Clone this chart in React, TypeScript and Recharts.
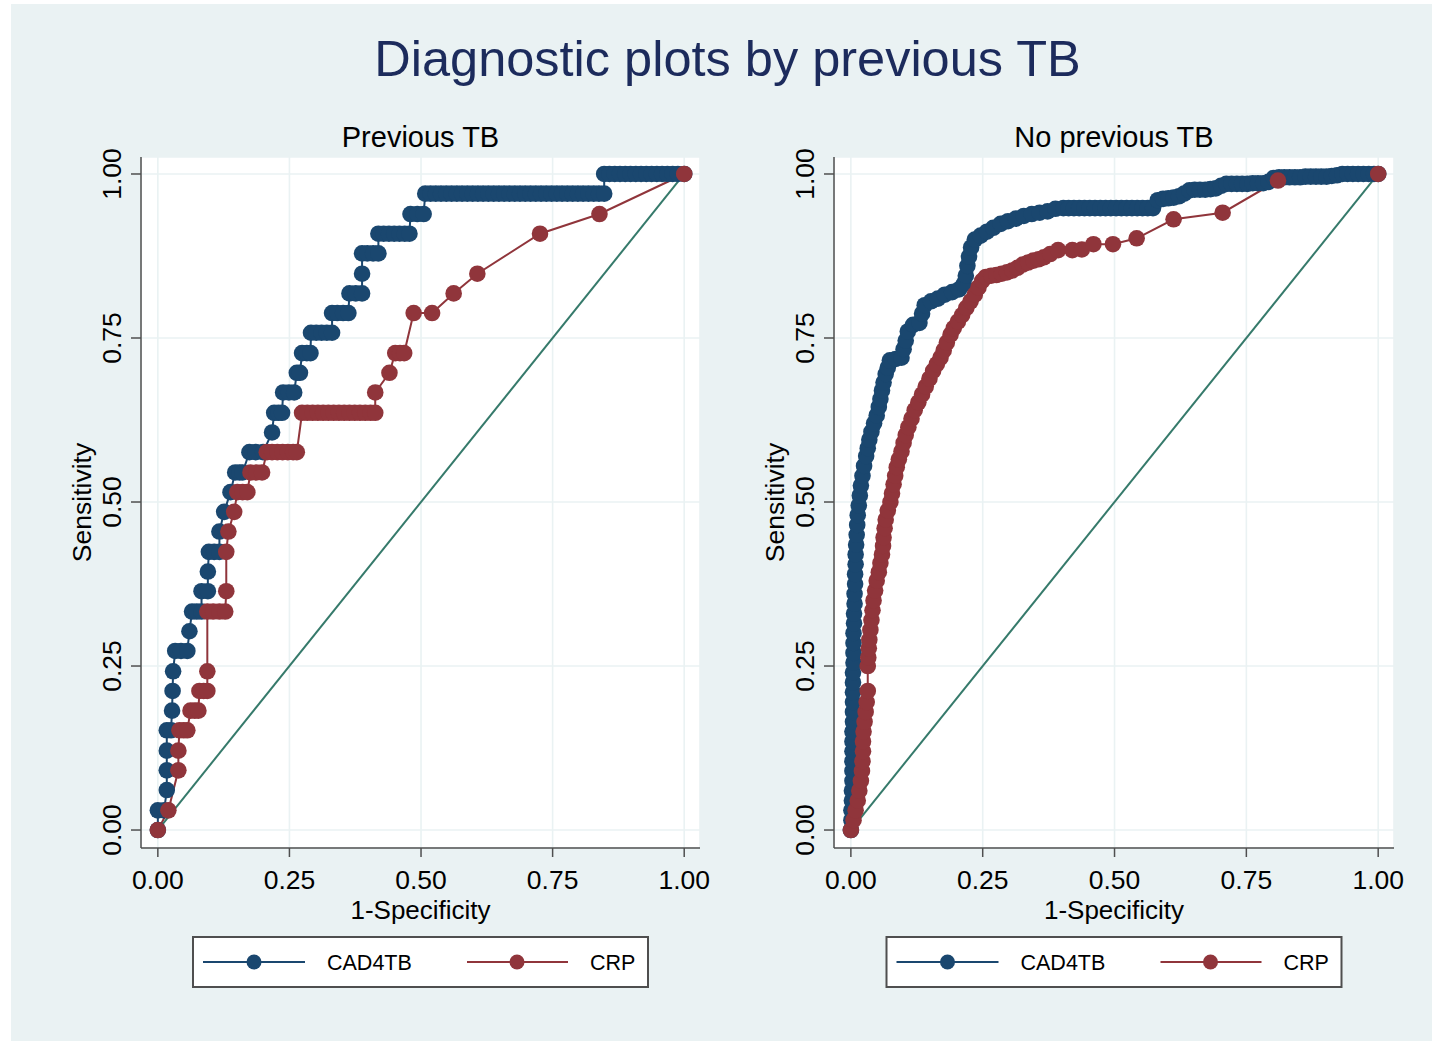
import React from "react";
import { ComposedChart, Line, XAxis, YAxis, CartesianGrid } from "recharts";

// ---------- text ----------
const chartTitle = "Diagnostic plots by previous TB";
const panelTitles = ["Previous TB", "No previous TB"];
const seriesNames = ["CAD4TB", "CRP"];
const xAxisTitle = "1-Specificity";
const yAxisTitle = "Sensitivity";

// ---------- ticks ----------
const xTicks = [0, 0.25, 0.5, 0.75, 1];
const yTicks = [0, 0.25, 0.5, 0.75, 1];

// ---------- data: [1-specificity, sensitivity] ----------
const cad4tbPrevious: [number, number][] = [
  [0, 0], [0, 0.03], [0.012, 0.03], [0.017, 0.061], [0.017, 0.091], [0.017, 0.121],
  [0.017, 0.152], [0.025, 0.152], [0.027, 0.182], [0.028, 0.212], [0.029, 0.242],
  [0.033, 0.273], [0.044, 0.273], [0.056, 0.273], [0.06, 0.303],
  [0.065, 0.333], [0.074, 0.333], [0.083, 0.333], [0.083, 0.364], [0.095, 0.364],
  [0.095, 0.394], [0.097, 0.424], [0.107, 0.424], [0.117, 0.424], [0.117, 0.455],
  [0.126, 0.485], [0.138, 0.515], [0.147, 0.545], [0.155, 0.545], [0.161, 0.545],
  [0.174, 0.576], [0.186, 0.576], [0.2, 0.576], [0.217, 0.606],
  [0.221, 0.636], [0.229, 0.636], [0.236, 0.636], [0.238, 0.667], [0.249, 0.667], [0.259, 0.667],
  [0.264, 0.697], [0.27, 0.697], [0.274, 0.727], [0.283, 0.727], [0.29, 0.727],
  [0.291, 0.758], [0.301, 0.758], [0.311, 0.758], [0.321, 0.758], [0.331, 0.758],
  [0.331, 0.788], [0.341, 0.788], [0.352, 0.788], [0.362, 0.788],
  [0.364, 0.818], [0.376, 0.818], [0.388, 0.818],
  [0.388, 0.848], [0.388, 0.879], [0.398, 0.879], [0.409, 0.879], [0.419, 0.879],
  [0.419, 0.909], [0.429, 0.909], [0.439, 0.909], [0.449, 0.909], [0.459, 0.909], [0.469, 0.909], [0.478, 0.909],
  [0.48, 0.939], [0.493, 0.939], [0.505, 0.939],
  [0.508, 0.97], [0.518, 0.97], [0.528, 0.97], [0.538, 0.97], [0.548, 0.97], [0.558, 0.97],
  [0.568, 0.97], [0.578, 0.97], [0.588, 0.97], [0.598, 0.97], [0.608, 0.97], [0.618, 0.97],
  [0.628, 0.97], [0.638, 0.97], [0.648, 0.97], [0.658, 0.97], [0.668, 0.97], [0.678, 0.97],
  [0.688, 0.97], [0.698, 0.97], [0.708, 0.97], [0.718, 0.97], [0.728, 0.97], [0.738, 0.97],
  [0.748, 0.97], [0.758, 0.97], [0.768, 0.97], [0.778, 0.97], [0.788, 0.97], [0.798, 0.97],
  [0.808, 0.97], [0.818, 0.97], [0.828, 0.97], [0.838, 0.97], [0.848, 0.97],
  [0.848, 1], [0.858, 1], [0.868, 1], [0.878, 1], [0.888, 1], [0.898, 1], [0.908, 1],
  [0.918, 1], [0.928, 1], [0.938, 1], [0.948, 1], [0.958, 1], [0.968, 1], [0.978, 1],
  [0.988, 1], [1, 1],
];

const crpPrevious: [number, number][] = [
  [0, 0], [0.02, 0.03], [0.039, 0.091], [0.039, 0.121],
  [0.041, 0.152], [0.049, 0.152], [0.056, 0.152],
  [0.062, 0.182], [0.07, 0.182], [0.077, 0.182],
  [0.079, 0.212], [0.087, 0.212], [0.094, 0.212], [0.094, 0.242],
  [0.094, 0.333], [0.105, 0.333], [0.117, 0.333], [0.128, 0.333],
  [0.13, 0.364], [0.13, 0.424], [0.134, 0.455], [0.145, 0.485],
  [0.151, 0.515], [0.161, 0.515], [0.17, 0.515],
  [0.176, 0.545], [0.187, 0.545], [0.198, 0.545],
  [0.207, 0.576], [0.217, 0.576], [0.227, 0.576], [0.237, 0.576], [0.247, 0.576], [0.257, 0.576], [0.264, 0.576],
  [0.274, 0.636], [0.284, 0.636], [0.294, 0.636], [0.304, 0.636], [0.314, 0.636], [0.324, 0.636],
  [0.334, 0.636], [0.344, 0.636], [0.354, 0.636], [0.364, 0.636], [0.374, 0.636], [0.384, 0.636],
  [0.394, 0.636], [0.404, 0.636], [0.413, 0.636],
  [0.413, 0.667], [0.44, 0.697], [0.451, 0.727], [0.46, 0.727], [0.468, 0.727],
  [0.486, 0.788], [0.521, 0.788], [0.562, 0.818], [0.607, 0.848],
  [0.726, 0.909], [0.839, 0.939], [1, 1],
];

const cad4tbNoPrevious: [number, number][] = [
  [0, 0], [0.001, 0.015], [0.001, 0.03], [0.002, 0.045], [0.002, 0.06], [0.003, 0.075],
  [0.003, 0.09], [0.003, 0.105], [0.003, 0.12], [0.003, 0.135], [0.003, 0.15], [0.004, 0.165],
  [0.004, 0.18], [0.004, 0.195], [0.004, 0.21], [0.004, 0.225], [0.004, 0.24], [0.005, 0.255],
  [0.005, 0.27], [0.005, 0.285], [0.005, 0.3], [0.006, 0.315], [0.006, 0.33], [0.007, 0.345],
  [0.007, 0.36], [0.008, 0.375], [0.008, 0.39], [0.009, 0.405], [0.009, 0.42], [0.01, 0.435],
  [0.011, 0.45], [0.012, 0.465], [0.013, 0.48], [0.015, 0.495], [0.017, 0.51], [0.019, 0.525],
  [0.022, 0.54], [0.025, 0.555], [0.029, 0.57], [0.032, 0.582], [0.035, 0.595], [0.039, 0.607],
  [0.044, 0.62], [0.049, 0.632], [0.053, 0.645], [0.056, 0.657], [0.059, 0.67], [0.062, 0.682],
  [0.066, 0.695], [0.07, 0.705], [0.074, 0.716], [0.085, 0.718], [0.096, 0.72], [0.1, 0.733],
  [0.104, 0.746], [0.108, 0.76], [0.118, 0.77], [0.13, 0.773], [0.135, 0.787], [0.14, 0.8],
  [0.152, 0.806], [0.165, 0.81], [0.178, 0.816], [0.192, 0.82], [0.205, 0.824], [0.214, 0.832],
  [0.218, 0.845], [0.221, 0.86], [0.224, 0.874], [0.228, 0.888], [0.235, 0.9], [0.246, 0.906],
  [0.258, 0.912], [0.27, 0.918], [0.284, 0.924], [0.298, 0.928], [0.313, 0.932], [0.328, 0.936],
  [0.343, 0.939], [0.358, 0.941], [0.373, 0.943], [0.388, 0.947], [0.403, 0.948], [0.413, 0.948],
  [0.423, 0.948], [0.433, 0.948], [0.443, 0.948], [0.453, 0.948], [0.463, 0.948], [0.473, 0.948],
  [0.483, 0.948], [0.493, 0.948], [0.503, 0.948], [0.513, 0.948], [0.523, 0.948], [0.533, 0.948],
  [0.543, 0.948], [0.553, 0.948], [0.563, 0.948], [0.573, 0.948], [0.582, 0.96], [0.592, 0.962],
  [0.602, 0.963], [0.612, 0.964], [0.622, 0.966], [0.632, 0.97], [0.642, 0.975], [0.652, 0.976],
  [0.662, 0.976], [0.672, 0.976], [0.682, 0.977], [0.692, 0.978], [0.702, 0.982], [0.712, 0.985],
  [0.722, 0.985], [0.732, 0.985], [0.742, 0.985], [0.752, 0.985], [0.762, 0.986], [0.772, 0.986],
  [0.782, 0.986], [0.792, 0.988], [0.802, 0.994], [0.812, 0.995], [0.822, 0.995], [0.832, 0.995],
  [0.842, 0.995], [0.852, 0.995], [0.862, 0.996], [0.872, 0.996], [0.882, 0.996], [0.892, 0.996],
  [0.902, 0.996], [0.912, 0.997], [0.922, 0.998], [0.932, 1], [0.942, 1], [0.952, 1],
  [0.962, 1], [0.972, 1], [0.982, 1], [0.992, 1], [1, 1],
];

const crpNoPrevious: [number, number][] = [
  [0, 0], [0.005, 0.015], [0.009, 0.03], [0.013, 0.045], [0.016, 0.06], [0.019, 0.075],
  [0.021, 0.09], [0.022, 0.105], [0.023, 0.12], [0.023, 0.135], [0.024, 0.15], [0.026, 0.165],
  [0.028, 0.18], [0.03, 0.195], [0.032, 0.212], [0.032, 0.25], [0.033, 0.263], [0.034, 0.277],
  [0.035, 0.29], [0.037, 0.305], [0.039, 0.32], [0.041, 0.335], [0.043, 0.35], [0.046, 0.365],
  [0.049, 0.38], [0.053, 0.393], [0.056, 0.407], [0.059, 0.42], [0.061, 0.433], [0.062, 0.446],
  [0.064, 0.46], [0.066, 0.473], [0.07, 0.487], [0.075, 0.5], [0.078, 0.513], [0.081, 0.527],
  [0.084, 0.54], [0.087, 0.553], [0.091, 0.565], [0.096, 0.577], [0.1, 0.59], [0.104, 0.602],
  [0.109, 0.614], [0.115, 0.627], [0.121, 0.64], [0.128, 0.652], [0.135, 0.664], [0.142, 0.676],
  [0.149, 0.688], [0.156, 0.7], [0.163, 0.71], [0.17, 0.72], [0.176, 0.731], [0.182, 0.743],
  [0.189, 0.755], [0.195, 0.765], [0.203, 0.775], [0.211, 0.785], [0.219, 0.796], [0.227, 0.806],
  [0.235, 0.816], [0.242, 0.827], [0.249, 0.837], [0.256, 0.843], [0.266, 0.845], [0.276, 0.846],
  [0.286, 0.848], [0.296, 0.85], [0.306, 0.853], [0.316, 0.857], [0.326, 0.862], [0.336, 0.865],
  [0.346, 0.868], [0.356, 0.87], [0.366, 0.873], [0.378, 0.878], [0.393, 0.884], [0.42, 0.884],
  [0.438, 0.885], [0.46, 0.893], [0.497, 0.893], [0.542, 0.902], [0.612, 0.931], [0.705, 0.941],
  [0.81, 0.99], [1, 1],
];

const referenceDiagonal: [number, number][] = [[0, 0], [1, 1]];

// ---------- styles ----------
const NAVY = "#1a476f";
const MAROON = "#90353b";
const GREEN = "#367a6b";
const BG = "#eaf2f3";
const AXIS = "#4f4f4f";
const FONT = "'Liberation Sans', Arial, Helvetica, sans-serif";
const DOT_R = 8.3;

const toRows = (arr: [number, number][]) => arr.map(([x, y]) => ({ x, y }));
const fmt = (v: number) => v.toFixed(2);

const XTick = (props: any) => {
  const { x, y, payload } = props;
  return (
    <text x={x} y={y + 29.5} textAnchor="middle" fontFamily={FONT} fontSize={26.5} fill="#000">
      {fmt(payload.value)}
    </text>
  );
};

const YTick = (props: any) => {
  const { x, y, payload } = props;
  const bx = x - 7.5;
  return (
    <text
      x={bx}
      y={y}
      transform={`rotate(-90 ${bx} ${y})`}
      textAnchor="middle"
      fontFamily={FONT}
      fontSize={26.5}
      fill="#000"
    >
      {fmt(payload.value)}
    </text>
  );
};

type PanelProps = { left: number; width: number; cad: [number, number][]; crp: [number, number][] };

function Panel({ left, width, cad, crp }: PanelProps) {
  return (
    <div style={{ position: "absolute", left, top: 100, width, height: 830 }}>
      <ComposedChart width={width} height={830} margin={{ top: 57, right: 20, bottom: 0, left: 0 }}>
        <CartesianGrid stroke={BG} strokeWidth={1.6} fill="#ffffff" fillOpacity={1} />
        <XAxis
          type="number"
          dataKey="x"
          domain={[-0.032, 1.03]}
          ticks={xTicks}
          interval={0}
          allowDataOverflow
          height={82}
          tickSize={9}
          axisLine={{ stroke: AXIS, strokeWidth: 1.5 }}
          tickLine={{ stroke: AXIS, strokeWidth: 1.5 }}
          tick={<XTick />}
        />
        <YAxis
          type="number"
          dataKey="y"
          domain={[-0.0274, 1.0259]}
          ticks={yTicks}
          interval={0}
          allowDataOverflow
          width={121}
          tickSize={10}
          axisLine={{ stroke: AXIS, strokeWidth: 1.5 }}
          tickLine={{ stroke: AXIS, strokeWidth: 1.5 }}
          tick={<YTick />}
        />
        <Line
          data={toRows(cad)}
          dataKey="y"
          name={seriesNames[0]}
          type="linear"
          stroke={NAVY}
          strokeWidth={2}
          dot={{ r: DOT_R, fill: NAVY, stroke: "none" }}
          activeDot={false}
          isAnimationActive={false}
        />
        <Line
          data={toRows(crp)}
          dataKey="y"
          name={seriesNames[1]}
          type="linear"
          stroke={MAROON}
          strokeWidth={2}
          dot={{ r: DOT_R, fill: MAROON, stroke: "none" }}
          activeDot={false}
          isAnimationActive={false}
        />
        <Line
          data={toRows(referenceDiagonal)}
          dataKey="y"
          type="linear"
          stroke={GREEN}
          strokeWidth={2}
          dot={false}
          activeDot={false}
          isAnimationActive={false}
          legendType="none"
        />
      </ComposedChart>
    </div>
  );
}

function LegendBox({ cx }: { cx: number }) {
  const x0 = cx - 227.5;
  return (
    <g>
      <rect x={x0} y={937} width={455} height={50} fill="#ffffff" stroke={AXIS} strokeWidth={2} />
      <line x1={x0 + 10} y1={962} x2={x0 + 112} y2={962} stroke={NAVY} strokeWidth={2} />
      <circle cx={x0 + 61} cy={962} r={7.5} fill={NAVY} />
      <text x={x0 + 134} y={970} fontFamily={FONT} fontSize={21.5} fill="#000">{seriesNames[0]}</text>
      <line x1={x0 + 274} y1={962} x2={x0 + 375} y2={962} stroke={MAROON} strokeWidth={2} />
      <circle cx={x0 + 324} cy={962} r={7.5} fill={MAROON} />
      <text x={x0 + 397} y={970} fontFamily={FONT} fontSize={21.5} fill="#000">{seriesNames[1]}</text>
    </g>
  );
}

export default function App() {
  const panelCenters = [420.5, 1114];
  return (
    <div style={{ position: "absolute", left: 0, top: 0, width: 1432, height: 1041, background: "#ffffff" }}>
      <svg width={1432} height={1041} style={{ position: "absolute", left: 0, top: 0 }}>
        <rect x={11} y={4} width={1421} height={1037} fill={BG} />
        <text x={727.5} y={76} textAnchor="middle" fontFamily={FONT} fontSize={50.5} fill="#1c2b5c">
          {chartTitle}
        </text>
        {panelTitles.map((t, i) => (
          <text key={t} x={panelCenters[i]} y={147} textAnchor="middle" fontFamily={FONT} fontSize={29} fill="#000">
            {t}
          </text>
        ))}
        {panelCenters.map((c, i) => (
          <text key={"xt" + i} x={c} y={919} textAnchor="middle" fontFamily={FONT} fontSize={26} fill="#000">
            {xAxisTitle}
          </text>
        ))}
        {[91, 784].map((bx, i) => (
          <text
            key={"yt" + i}
            x={bx}
            y={502.5}
            transform={`rotate(-90 ${bx} 502.5)`}
            textAnchor="middle"
            fontFamily={FONT}
            fontSize={26.5}
            fill="#000"
          >
            {yAxisTitle}
          </text>
        ))}
        {panelCenters.map((c, i) => (
          <LegendBox key={"lg" + i} cx={c} />
        ))}
      </svg>
      <Panel left={20} width={700} cad={cad4tbPrevious} crp={crpPrevious} />
      <Panel left={713} width={701} cad={cad4tbNoPrevious} crp={crpNoPrevious} />
    </div>
  );
}
